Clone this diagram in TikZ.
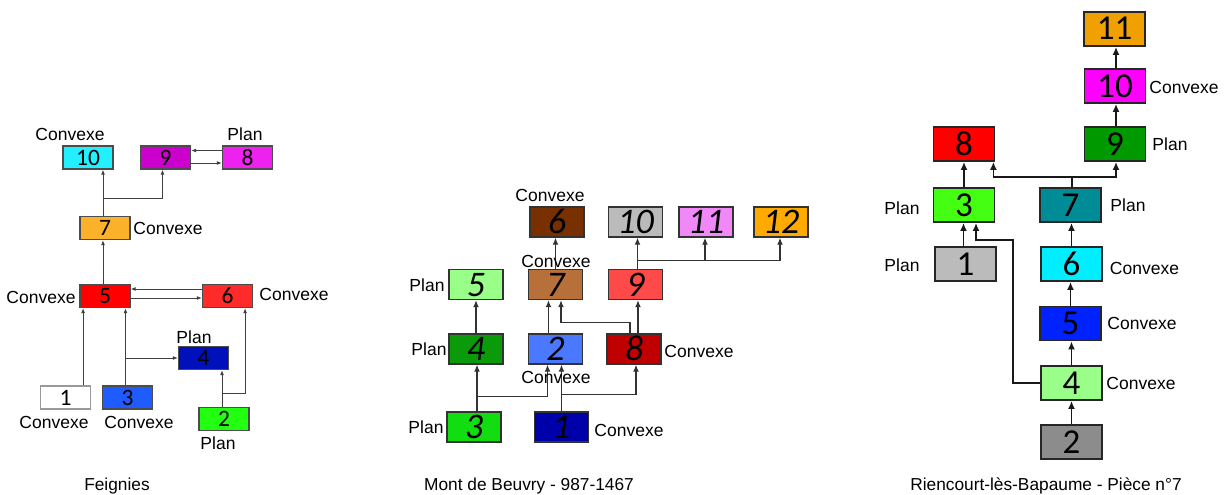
\documentclass[tikz,border=0pt]{standalone}
\usepackage{fontspec}
\setmainfont{Liberation Sans}
\newfontfamily\numfont{Carlito}
\usetikzlibrary{arrows.meta}

% couleurs Feignies
\definecolor{fcyan}{HTML}{22F0FF}
\definecolor{fviolet}{HTML}{CC00CC}
\definecolor{fmagenta}{HTML}{EE22EE}
\definecolor{forange}{HTML}{FBB22A}
\definecolor{frouge}{HTML}{FF0000}
\definecolor{frose}{HTML}{FF2A2A}
\definecolor{fmarine}{HTML}{0010BB}
\definecolor{fbleu}{HTML}{1F5CFF}
\definecolor{fvert}{HTML}{22FF11}
% couleurs Mont de Beuvry
\definecolor{mbrun}{HTML}{783000}
\definecolor{mgris}{HTML}{BBBBBB}
\definecolor{mrose}{HTML}{F088F8}
\definecolor{morange}{HTML}{FFAA00}
\definecolor{mvertc}{HTML}{99FF88}
\definecolor{mbrunc}{HTML}{B8703A}
\definecolor{mrouge}{HTML}{FF4A4A}
\definecolor{mvertf}{HTML}{0A9A0A}
\definecolor{mbleu}{HTML}{4A78FF}
\definecolor{mrougef}{HTML}{C00000}
\definecolor{mvert}{HTML}{11DD11}
\definecolor{mmarine}{HTML}{0000AA}
% couleurs Riencourt
\definecolor{rorange}{HTML}{F0A000}
\definecolor{rmagenta}{HTML}{FF00FF}
\definecolor{rvertf}{HTML}{009900}
\definecolor{rrouge}{HTML}{FF0000}
\definecolor{rvert}{HTML}{44FF11}
\definecolor{rpetrole}{HTML}{008C96}
\definecolor{rgris}{HTML}{BBBBBB}
\definecolor{rcyan}{HTML}{00EEFF}
\definecolor{rbleu}{HTML}{0022FF}
\definecolor{rvertc}{HTML}{99FF88}
\definecolor{rgrisf}{HTML}{8C8C8C}

\begin{document}
\begin{tikzpicture}[x=1pt,y=-1pt,
  lab/.style={font=\fontsize{17.5}{20}\selectfont, inner sep=0},
  titre/.style={font=\fontsize{17.3}{20}\selectfont, inner sep=0},
  fbox/.style={draw=black!70, line width=1.2pt, minimum width=50, minimum height=23,
    inner sep=0, text height=15pt, text depth=0pt, font=\numfont\fontsize{23.5}{23.5}\selectfont},
  mbox/.style={draw=black!80, line width=1.4pt, minimum width=54, minimum height=30,
    inner sep=0, text height=23pt, text depth=0pt, font=\numfont\itshape\fontsize{36}{36}\selectfont},
  rbox/.style={draw=black!85, line width=1.8pt, minimum width=61, minimum height=34,
    inner sep=0, text height=22pt, text depth=0pt, font=\numfont\fontsize{35}{35}\selectfont},
  farr/.style={draw=black!75, line width=1pt, -{Latex[length=5pt,width=4pt]}},
  marr/.style={draw=black!80, line width=1.3pt, -{Latex[length=7pt,width=6pt]}},
  rarr/.style={draw=black!90, line width=1.8pt, -{Latex[length=8pt,width=7pt]}}]
  \useasboundingbox (0,0) rectangle (1227,495);

  % Feignies
  \node[fbox, fill=fcyan] (f10) at (88,157.5) {10};
  \node[fbox, fill=fviolet] (f9) at (165.5,157.5) {9};
  \node[fbox, fill=fmagenta] (f8) at (247.5,157.5) {8};
  \node[fbox, fill=forange] (f7) at (105,228) {7};
  \node[fbox, fill=frouge] (f5) at (105,296) {5};
  \node[fbox, fill=frose] (f6) at (227.5,296) {6};
  \node[fbox, fill=fmarine] (f4) at (203.5,358) {4};
  \node[fbox, fill=white, draw=black!40] (f1) at (65.5,397.5) {1};
  \node[fbox, fill=fbleu] (f3) at (127.5,397.5) {3};
  \node[fbox, fill=fvert] (f2) at (224,419) {2};

  \node[lab] (lf10) at (70,134) {Convexe};
  \node[lab] (lf8) at (245,134) {Plan};
  \node[lab] (lf7) at (168,228) {Convexe};
  \node[lab] (lf5) at (41,297) {Convexe};
  \node[lab] (lf6) at (294,294) {Convexe};
  \node[lab] (lf4) at (194,337) {Plan};
  \node[lab] (lf1) at (54,422) {Convexe};
  \node[lab] (lf3) at (139,422) {Convexe};
  \node[lab] (lf2) at (218,443) {Plan};

  \draw[farr] ([yshift=7]f8.west) -- ([yshift=7]f9.east);
  \draw[farr] ([yshift=-5.5]f9.east) -- ([yshift=-5.5]f8.west);
  \draw[farr] ([xshift=-2]f7.north) -- ([xshift=-2]f7.north |- f10.south);
  \draw[farr] ([xshift=-2]f7.north) ++(0,-17) -| ([xshift=-3]f9.south);
  \draw[farr] ([xshift=-2]f5.north) -- ([xshift=-2]f7.south);
  \draw[farr] ([yshift=7]f6.west) -- ([yshift=7]f5.east);
  \draw[farr] ([yshift=-2]f5.east) -- ([yshift=-2]f6.west);
  \draw[farr] ([xshift=-8]f1.north east) -- ([xshift=-8]f1.north east |- f5.south);
  \draw[farr] ([xshift=-2]f3.north) -- ([xshift=-2]f3.north |- f5.south);
  \draw[farr] ([xshift=-2]f3.north |- f4.west) -- (f4.west);
  \draw[farr] ([xshift=-2]f2.north) -- ([xshift=-2]f2.north |- f4.south);
  \draw[farr] ([xshift=-2]f2.north) ++(0,-13) -| ([xshift=-8]f6.south east);

  % Mont de Beuvry
  \node[mbox, fill=mbrun] (m6) at (557,222) {6};
  \node[mbox, fill=mgris] (m10) at (635.5,222) {10};
  \node[mbox, fill=mrose] (m11) at (706,222) {11};
  \node[mbox, fill=morange] (m12) at (781,222) {12};
  \node[mbox, fill=mvertc] (m5) at (476,284.5) {5};
  \node[mbox, fill=mbrunc] (m7) at (555.5,284.5) {7};
  \node[mbox, fill=mrouge] (m9) at (635.5,284.5) {9};
  \node[mbox, fill=mvertf] (m4) at (476,349) {4};
  \node[mbox, fill=mbleu] (m2) at (555.5,349) {2};
  \node[mbox, fill=mrougef] (m8) at (634,349) {8};
  \node[mbox, fill=mvert] (m3) at (474,427) {3};
  \node[mbox, fill=mmarine] (m1) at (561.5,427) {1};

  \draw[marr] (m7.north) -- (m7.north |- m6.south);
  \draw[marr] ([xshift=2]m9.north) -- ([xshift=2]m9.north |- m10.south);
  \draw[marr] ([xshift=2]m9.north) ++(0,-8) -| ([xshift=-1]m11.south);
  \draw[marr] ([xshift=2]m9.north) ++(0,-8) -| ([xshift=-1]m12.south);
  \draw[marr] (m4.north) -- (m5.south);
  \draw[marr] ([xshift=-7]m2.north) -- ([xshift=-7]m2.north |- m7.south);
  \draw[marr] ([xshift=4]m8.north) -- ([xshift=4]m8.north |- m9.south);
  \draw[marr] ([xshift=-4]m8.north) -- ++(0,-11) -| ([xshift=5.5]m7.south);
  \draw[marr] ([xshift=3]m3.north) -- ([xshift=3]m3.north |- m4.south);
  \draw[marr] ([xshift=3]m3.north) ++(0,-15) -| ([xshift=-8]m2.south);
  \draw[marr] (m1.north) -- (m1.north |- m2.south);
  \draw[marr] (m1.north) ++(0,-17) -| ([xshift=2]m8.south);

  \node[lab] (lm6) at (550,195) {Convexe};
  \node[lab] (lm7) at (556,261) {Convexe};
  \node[lab] (lm5) at (427,285) {Plan};
  \node[lab] (lm4) at (429,349) {Plan};
  \node[lab] (lm2) at (556,377) {Convexe};
  \node[lab] (lm8) at (699,351) {Convexe};
  \node[lab] (lm3) at (426,427) {Plan};
  \node[lab] (lm1) at (629,430) {Convexe};

  % Riencourt
  \node[rbox, fill=rorange] (r11) at (1114.5,29) {11};
  \node[rbox, fill=rmagenta] (r10) at (1115,86) {10};
  \node[rbox, fill=rvertf] (r9) at (1115,144) {9};
  \node[rbox, fill=rrouge] (r8) at (964,144) {8};
  \node[rbox, fill=rvert] (r3) at (964,205) {3};
  \node[rbox, fill=rpetrole] (r7) at (1070.5,205) {7};
  \node[rbox, fill=rgris] (r1) at (965.5,264) {1};
  \node[rbox, fill=rcyan] (r6) at (1071.5,264) {6};
  \node[rbox, fill=rbleu] (r5) at (1070.5,323.5) {5};
  \node[rbox, fill=rvertc] (r4) at (1071.5,383) {4};
  \node[rbox, fill=rgrisf] (r2) at (1071.5,442) {2};
  \coordinate (rk) at (1013,240);

  \draw[rarr] (r2.north) -- (r4.south);
  \draw[rarr] (r4.north) -- (r4.north |- r5.south);
  \draw[rarr] (r5.north) -- (r5.north |- r6.south);
  \draw[rarr] (r6.north) -- (r6.north |- r7.south);
  \draw[rarr] ([xshift=1.5]r7.north) ++(0,-10) -| ([xshift=1]r9.south);
  \draw[rarr] ([xshift=1.5]r7.north) -- ++(0,-10) -| ([xshift=-2]r8.south east);
  \draw[rarr] ([xshift=1]r9.north) -- ([xshift=1]r9.north |- r10.south);
  \draw[rarr] ([xshift=1]r10.north) -- ([xshift=1]r10.north |- r11.south);
  \draw[rarr] (r3.north) -- (r8.south);
  \draw[rarr] ([xshift=-2]r1.north) -- ([xshift=-2]r1.north |- r3.south);
  \draw[rarr] (r4.west) -| (rk) -| ([xshift=12]r3.south);

  \node[lab] (lr10) at (1184,87) {Convexe};
  \node[lab] (lr9) at (1170,144) {Plan};
  \node[lab] (lr3) at (902,208) {Plan};
  \node[lab] (lr7) at (1128,205) {Plan};
  \node[lab] (lr1) at (902,265) {Plan};
  \node[lab] (lr6) at (1144.5,268) {Convexe};
  \node[lab] (lr5) at (1142,323) {Convexe};
  \node[lab] (lr4) at (1141,383) {Convexe};

  % Titres
  \node[titre] (tf) at (117,486) {Feignies};
  \node[titre] (tm) at (529,486) {Mont de Beuvry - 987-1467};
  \node[titre] (tr) at (1046,486) {Riencourt-lès-Bapaume - Pièce n°7};
\end{tikzpicture}
\end{document}
